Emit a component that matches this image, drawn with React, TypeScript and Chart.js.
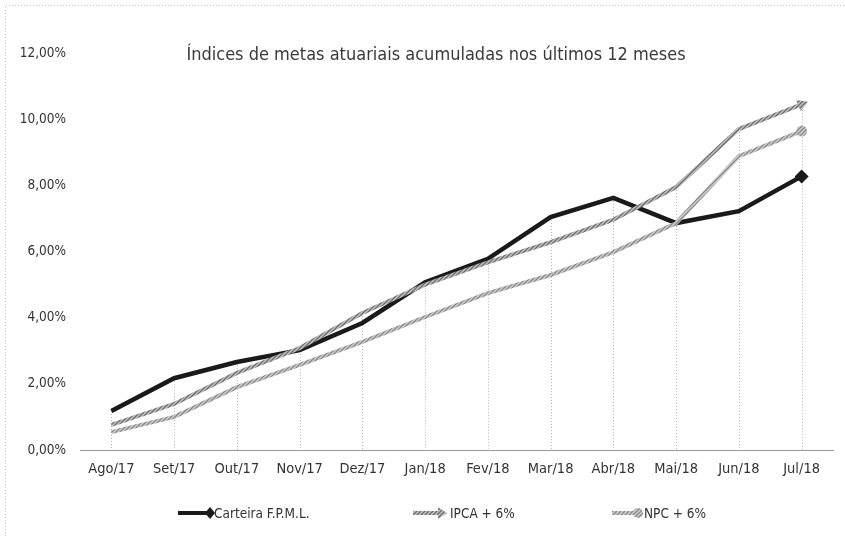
import React, { useEffect, useRef } from 'react';
import { Chart, registerables } from 'chart.js';

Chart.register(...registerables);

const categories = ['Ago/17', 'Set/17', 'Out/17', 'Nov/17', 'Dez/17', 'Jan/18', 'Fev/18', 'Mar/18', 'Abr/18', 'Mai/18', 'Jun/18', 'Jul/18'];
const carteira = [1.18, 2.17, 2.66, 3.02, 3.84, 5.07, 5.78, 7.04, 7.62, 6.86, 7.22, 8.27];
const ipca = [0.76, 1.39, 2.33, 3.08, 4.14, 5.0, 5.67, 6.28, 6.96, 7.95, 9.7, 10.45];
const npc = [0.54, 1.0, 1.9, 2.57, 3.27, 4.02, 4.74, 5.29, 5.98, 6.86, 8.88, 9.64];
const yMin = 0;
const yMax = 12;
const yStep = 2;
const titleText = 'Índices de metas atuariais acumuladas nos últimos 12 meses';
const legendLabels = ['Carteira F.P.M.L.', 'IPCA + 6%', 'NPC + 6%'];

const FONT = "'Liberation Sans Narrow', 'DejaVu Sans Condensed', 'Open Sans', sans-serif";

function makePattern(light: string, dark: string): CanvasPattern | string {
  const c = document.createElement('canvas');
  c.width = 4;
  c.height = 4;
  const g = c.getContext('2d');
  if (!g) return dark;
  g.fillStyle = light;
  g.fillRect(0, 0, 4, 4);
  g.strokeStyle = dark;
  g.lineWidth = 1.4;
  g.beginPath();
  g.moveTo(0, 4);
  g.lineTo(4, 0);
  g.moveTo(-1, 1);
  g.lineTo(1, -1);
  g.moveTo(3, 5);
  g.lineTo(5, 3);
  g.stroke();
  const p = g.createPattern(c, 'repeat');
  return p || dark;
}

export default function App() {
  const ref = useRef<HTMLCanvasElement | null>(null);

  useEffect(() => {
    const canvas = ref.current;
    if (!canvas) return;
    const ipcaPat = makePattern('#c4c4c4', '#6e6e6e');
    const npcPat = makePattern('#d0d0d0', '#8a8a8a');
    const last = categories.length - 1;

    const dropLines = {
      id: 'dropLines',
      beforeDatasetsDraw(chart: any) {
        const { ctx, chartArea, scales } = chart;
        const x = scales.x;
        const y = scales.y;
        ctx.save();
        ctx.strokeStyle = '#b5b5b5';
        ctx.lineWidth = 1;
        ctx.setLineDash([1, 2]);
        categories.forEach((_c, i) => {
          const maxV = Math.max(...chart.data.datasets.map((d: any) => d.data[i]));
          const px = Math.round(x.getPixelForValue(i)) + 0.5;
          ctx.beginPath();
          ctx.moveTo(px, y.getPixelForValue(maxV));
          ctx.lineTo(px, chartArea.bottom);
          ctx.stroke();
        });
        ctx.restore();
      },
    };

    const decor = {
      id: 'decor',
      afterDraw(chart: any) {
        const { ctx } = chart;
        ctx.save();
        ctx.strokeStyle = '#c8c8c8';
        ctx.lineWidth = 1;
        ctx.setLineDash([1, 2]);
        ctx.beginPath();
        ctx.moveTo(5.5, 536);
        ctx.lineTo(5.5, 5.5);
        ctx.lineTo(845, 5.5);
        ctx.stroke();
        ctx.setLineDash([]);
        ctx.fillStyle = '#3a3a3a';
        ctx.font = `18px ${FONT}`;
        ctx.textAlign = 'center';
        ctx.textBaseline = 'middle';
        ctx.fillText(titleText, 436, 55);
        ctx.font = `13.5px ${FONT}`;
        ctx.textAlign = 'left';
        const ly = 513;
        ctx.strokeStyle = '#1a1a1a';
        ctx.lineWidth = 4;
        ctx.beginPath();
        ctx.moveTo(178, ly);
        ctx.lineTo(208, ly);
        ctx.stroke();
        ctx.fillStyle = '#1a1a1a';
        ctx.beginPath();
        ctx.moveTo(210, ly - 6);
        ctx.lineTo(215, ly);
        ctx.lineTo(210, ly + 6);
        ctx.lineTo(205, ly);
        ctx.closePath();
        ctx.fill();
        ctx.fillStyle = '#333';
        ctx.fillText(legendLabels[0], 214, ly + 1);
        ctx.strokeStyle = ipcaPat;
        ctx.lineWidth = 4;
        ctx.beginPath();
        ctx.moveTo(413, ly);
        ctx.lineTo(440, ly);
        ctx.stroke();
        ctx.fillStyle = ipcaPat;
        ctx.beginPath();
        ctx.moveTo(438, ly - 6);
        ctx.lineTo(447, ly);
        ctx.lineTo(438, ly + 6);
        ctx.closePath();
        ctx.fill();
        ctx.fillStyle = '#333';
        ctx.fillText(legendLabels[1], 450, ly + 1);
        ctx.strokeStyle = npcPat;
        ctx.lineWidth = 4;
        ctx.beginPath();
        ctx.moveTo(612, ly);
        ctx.lineTo(636, ly);
        ctx.stroke();
        ctx.fillStyle = npcPat;
        ctx.beginPath();
        ctx.arc(638, ly, 5, 0, Math.PI * 2);
        ctx.fill();
        ctx.fillStyle = '#333';
        ctx.fillText(legendLabels[2], 644, ly + 1);
        ctx.restore();
      },
    };

    const lastOnly = (r: number) => (c: any) => (c.dataIndex === last ? r : 0);

    const chart = new Chart(canvas, {
      type: 'line',
      data: {
        labels: categories,
        datasets: [
          {
            label: legendLabels[1],
            data: ipca,
            borderColor: ipcaPat as any,
            backgroundColor: ipcaPat as any,
            borderWidth: 4,
            tension: 0,
            pointStyle: 'triangle',
            rotation: 68,
            pointRadius: lastOnly(7),
            pointBorderWidth: 0,
            pointHoverRadius: 0,
          },
          {
            label: legendLabels[2],
            data: npc,
            borderColor: npcPat as any,
            backgroundColor: npcPat as any,
            borderWidth: 4,
            tension: 0,
            pointStyle: 'circle',
            pointRadius: lastOnly(5.5),
            pointBorderWidth: 0,
            pointHoverRadius: 0,
          },
          {
            label: legendLabels[0],
            data: carteira,
            borderColor: '#1a1a1a',
            backgroundColor: '#1a1a1a',
            borderWidth: 4.5,
            tension: 0,
            pointStyle: 'rectRot',
            pointRadius: lastOnly(7),
            pointBorderWidth: 0,
            pointHoverRadius: 0,
          },
        ],
      },
      options: {
        animation: false,
        responsive: false,
        maintainAspectRatio: false,
        events: [],
        layout: { padding: { top: 53, right: 12, left: 0, bottom: 0 } },
        plugins: {
          legend: { display: false },
          title: { display: false },
          tooltip: { enabled: false },
        },
        scales: {
          x: {
            type: 'category',
            offset: true,
            grid: { display: false, drawTicks: false },
            border: { display: true, color: '#9a9a9a', dash: [2, 2], width: 1 },
            ticks: {
              color: '#333',
              font: { family: FONT, size: 14.5 },
              padding: 11,
              maxRotation: 0,
              autoSkip: false,
            },
            afterFit: (s: any) => {
              s.height = 91;
            },
          },
          y: {
            min: yMin,
            max: yMax,
            grid: { display: false, drawTicks: false },
            border: { display: false },
            ticks: {
              stepSize: yStep,
              color: '#333',
              font: { family: FONT, size: 13.5 },
              padding: 14,
              callback: (v: any) => Number(v).toFixed(2).replace('.', ',') + '%',
            },
            afterFit: (s: any) => {
              s.width = 80;
            },
          },
        },
      },
      plugins: [dropLines, decor],
    });
    return () => chart.destroy();
  }, []);

  return (
    <div style={{ position: 'fixed', left: 0, top: 0, width: 845, height: 541, background: '#fff' }}>
      <canvas ref={ref} width={845} height={541} style={{ width: 845, height: 541, display: 'block' }} />
    </div>
  );
}
